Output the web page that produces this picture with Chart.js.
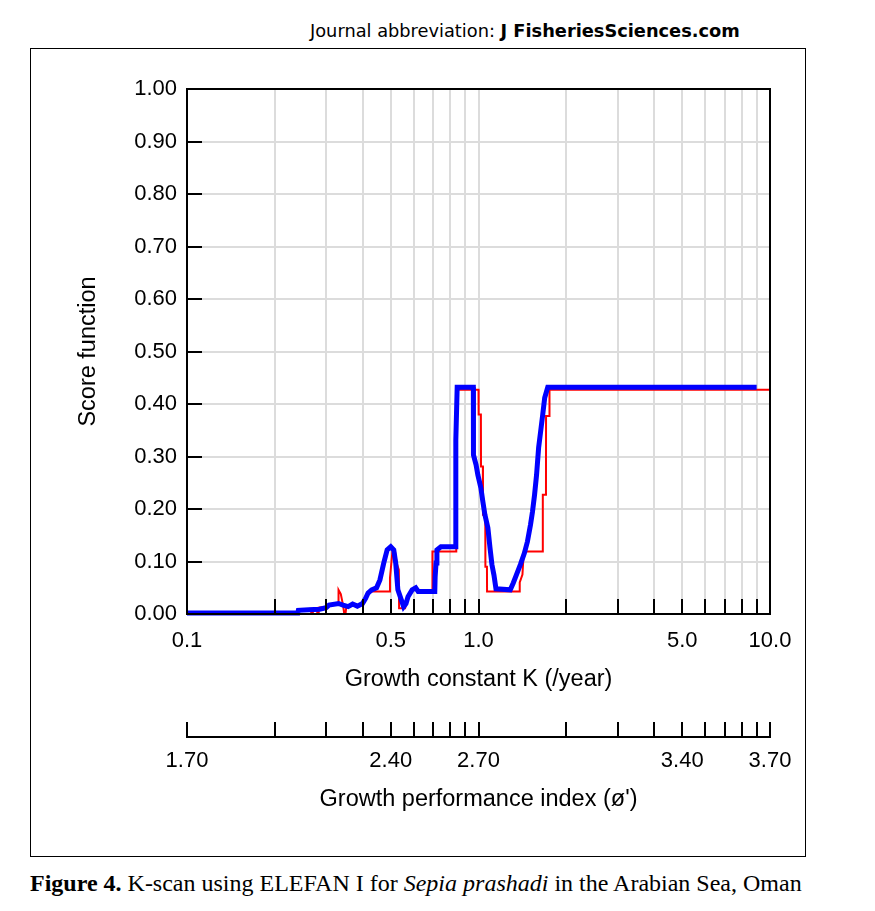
<!DOCTYPE html>
<html>
<head>
<meta charset="utf-8">
<script src="https://cdn.jsdelivr.net/npm/chart.js@4.4.0/dist/chart.umd.min.js"></script>
<style>
body { margin: 0; background: #fff; width: 875px; height: 911px; position: relative; overflow: hidden; }
#head { position: absolute; left: 310px; top: 20px; font: 17.8px "DejaVu Sans"; color: #000; white-space: nowrap; }
#frame { position: absolute; left: 30px; top: 48px; width: 776px; height: 809px; border: 1px solid #000; box-sizing: border-box; }
#cap { position: absolute; left: 30px; top: 870px; font: 24px "Liberation Serif"; color: #000; white-space: nowrap; }
canvas { position: absolute; left: 0; top: 0; }
</style>
</head>
<body>
<div id="head">Journal abbreviation: <b>J FisheriesSciences.com</b></div>
<div id="frame"></div>
<div id="cap"><b>Figure 4.</b> K-scan using ELEFAN I for <i>Sepia prashadi</i> in the Arabian Sea, Oman</div>
<canvas id="kscan" width="875" height="911"></canvas>
<script>
// smoothed score (blue)
const blueK = [0.100, 0.240, 0.241, 0.262, 0.285, 0.300, 0.307, 0.331, 0.343, 0.357, 0.370, 0.384,
  0.400, 0.410, 0.418, 0.430, 0.447, 0.459, 0.473, 0.486, 0.500, 0.512, 0.520, 0.529, 0.5535,
  0.564, 0.573, 0.592, 0.609, 0.621, 0.708, 0.710, 0.715, 0.720, 0.743, 0.831, 0.836, 0.845,
  0.960, 0.961, 0.981, 0.995, 1.019, 1.035, 1.052, 1.077, 1.095, 1.112, 1.130, 1.148, 1.285,
  1.316, 1.348, 1.392, 1.437, 1.472, 1.508, 1.532, 1.557, 1.582, 1.608, 1.634, 1.661, 1.687,
  1.728, 9.0];
const blueScore = [0.002, 0.002, 0.007, 0.008, 0.009, 0.012, 0.017, 0.020, 0.017, 0.014, 0.019, 0.015,
  0.020, 0.030, 0.040, 0.046, 0.050, 0.065, 0.097, 0.122, 0.128, 0.122, 0.097, 0.046, 0.014,
  0.020, 0.033, 0.046, 0.050, 0.043, 0.043, 0.071, 0.097, 0.122, 0.128, 0.128, 0.332, 0.432,
  0.432, 0.303, 0.284, 0.265, 0.240, 0.214, 0.189, 0.164, 0.126, 0.094, 0.074, 0.048, 0.046,
  0.059, 0.074, 0.094, 0.116, 0.138, 0.170, 0.195, 0.227, 0.265, 0.317, 0.348, 0.380, 0.412,
  0.432, 0.432];

// raw score (red)
const redK = [0.100, 0.240, 0.241, 0.266, 0.267, 0.270, 0.271, 0.279, 0.280, 0.282, 0.283, 0.300,
  0.310, 0.330, 0.331, 0.337, 0.343, 0.346, 0.350, 0.352, 0.370, 0.384, 0.400, 0.410, 0.426,
  0.495, 0.497, 0.508, 0.516, 0.524, 0.533, 0.534, 0.560, 0.573, 0.592, 0.609, 0.621, 0.694,
  0.695, 0.838, 0.839, 1.000, 1.001, 1.019, 1.020, 1.035, 1.036, 1.055, 1.056, 1.069, 1.070,
  1.381, 1.385, 1.415, 1.430, 1.661, 1.662, 1.704, 1.705, 1.751, 1.752, 10.0];
const redScore = [0.001, 0.001, 0.008, 0.010, 0.001, 0.001, 0.010, 0.010, 0.001, 0.001, 0.012, 0.014,
  0.018, 0.018, 0.046, 0.038, 0.017, 0.002, 0.002, 0.014, 0.018, 0.015, 0.020, 0.030, 0.043,
  0.043, 0.069, 0.126, 0.122, 0.097, 0.084, 0.011, 0.011, 0.033, 0.046, 0.050, 0.043, 0.043,
  0.119, 0.119, 0.427, 0.427, 0.380, 0.380, 0.281, 0.281, 0.189, 0.189, 0.090, 0.090, 0.043,
  0.043, 0.060, 0.075, 0.119, 0.119, 0.227, 0.227, 0.377, 0.377, 0.427, 0.427];

// axis ticks
const kTicks = [0.1, 0.2, 0.3, 0.4, 0.5, 0.6, 0.7, 0.8, 0.9, 1, 2, 3, 4, 5, 6, 7, 8, 9, 10];
const kLabelValues = [0.1, 0.5, 1, 5, 10];
const kLabels = ["0.1", "0.5", "1.0", "5.0", "10.0"];
const phiLabels = ["1.70", "2.40", "2.70", "3.40", "3.70"];

Chart.defaults.font.family = "Liberation Sans";
Chart.defaults.color = "#000";

const insideTicks = {
  id: "insideTicks",
  afterDraw(chart) {
    const { ctx, chartArea: a, scales } = chart;
    ctx.save();
    ctx.strokeStyle = "#000";
    ctx.lineWidth = 2;
    ctx.strokeRect(a.left, a.top, a.right - a.left, a.bottom - a.top);
    ctx.beginPath();
    scales.y.ticks.forEach(t => {
      const py = Math.round(scales.y.getPixelForValue(t.value));
      ctx.moveTo(a.left, py);
      ctx.lineTo(a.left + 15, py);
    });
    scales.x.ticks.forEach(t => {
      const px = Math.round(scales.x.getPixelForValue(t.value));
      ctx.moveTo(px, a.bottom);
      ctx.lineTo(px, a.bottom - 15);
    });
    const x2 = scales.x2;
    x2.ticks.forEach(t => {
      const px = Math.round(x2.getPixelForValue(t.value));
      ctx.moveTo(px, x2.top);
      ctx.lineTo(px, x2.top - 15);
    });
    ctx.stroke();
    ctx.restore();
  }
};

const setKTicks = s => { s.ticks = kTicks.map(v => ({ value: v })); };
const labelFor = list => v => {
  const i = kLabelValues.indexOf(v);
  return i >= 0 ? list[i] : "";
};

new Chart(document.getElementById("kscan"), {
  type: "line",
  data: {
    datasets: [
      {
        data: blueK.map((k, i) => ({ x: k, y: blueScore[i] })),
        borderColor: "#0000ff",
        borderWidth: 5,
        pointRadius: 0,
        clip: 8
      },
      {
        data: redK.map((k, i) => ({ x: k, y: redScore[i] })),
        borderColor: "#ff0000",
        borderWidth: 2,
        pointRadius: 0,
        clip: 8
      }
    ]
  },
  options: {
    responsive: false,
    animation: false,
    layout: { padding: { left: 60, right: 105, top: 89, bottom: 89 } },
    plugins: { legend: { display: false }, tooltip: { enabled: false } },
    scales: {
      x: {
        type: "logarithmic",
        position: "bottom",
        min: 0.1,
        max: 10,
        afterBuildTicks: setKTicks,
        afterFit: s => { s.height = 123; s.paddingLeft = 0; s.paddingRight = 0; },
        grid: { color: "#dcdcdc", lineWidth: 2, drawTicks: false },
        border: { color: "#000", width: 2 },
        ticks: { autoSkip: false, maxRotation: 0, padding: 14, font: { size: 22 }, callback: labelFor(kLabels) },
        title: { display: true, text: "Growth constant K (/year)", font: { size: 23.5 }, padding: { top: 0, bottom: 43 } }
      },
      x2: {
        type: "logarithmic",
        position: "bottom",
        min: 0.1,
        max: 10,
        afterBuildTicks: setKTicks,
        afterFit: s => { s.height = 85; s.paddingLeft = 0; s.paddingRight = 0; },
        grid: { display: false, drawTicks: false },
        border: { color: "#000", width: 2 },
        ticks: { autoSkip: false, maxRotation: 0, padding: 11, font: { size: 22 }, callback: labelFor(phiLabels) },
        title: { display: true, text: "Growth performance index (ø')", font: { size: 23.5 }, padding: { top: 0, bottom: 8 } }
      },
      y: {
        min: 0,
        max: 1,
        afterFit: s => { s.width = 127; s.paddingTop = 0; s.paddingBottom = 0; },
        grid: { color: "#dcdcdc", lineWidth: 2, drawTicks: false },
        border: { color: "#000", width: 2 },
        ticks: { stepSize: 0.1, padding: 10, font: { size: 22 }, callback: v => v.toFixed(2) },
        title: { display: true, text: "Score function", font: { size: 23.5 }, padding: { top: 14, bottom: 0 } }
      }
    }
  },
  plugins: [insideTicks]
});
</script>
</body>
</html>
